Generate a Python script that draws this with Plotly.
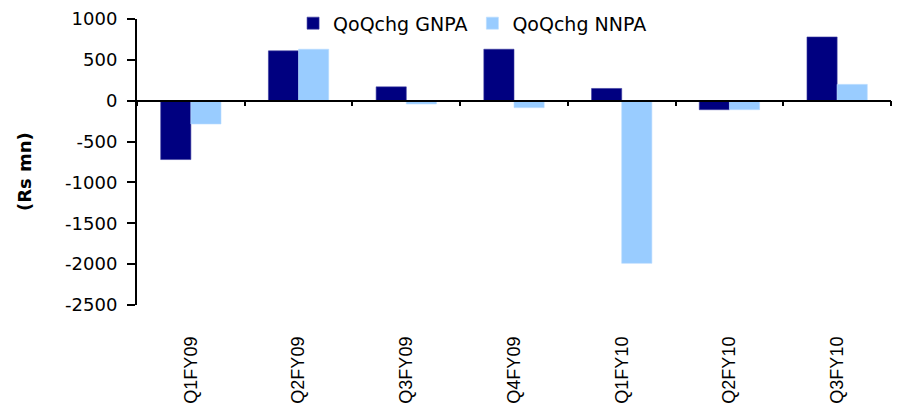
import plotly.graph_objects as go

quarters = ["Q1FY09", "Q2FY09", "Q3FY09", "Q4FY09", "Q1FY10", "Q2FY10", "Q3FY10"]
gnpa_chg = [-720, 610, 170, 630, 150, -110, 780]
nnpa_chg = [-285, 630, -40, -85, -1990, -110, 200]

y_ticks = [-2500, -2000, -1500, -1000, -500, 0, 500, 1000]
y_tick_text = ["-2500", "-2000", "-1500", "-1000", "-500", "0", "500", "1000"]

y_min, y_max = -2500, 1000
font_family = "DejaVu Sans"

fig = go.Figure()
fig.add_trace(go.Bar(
    x=quarters, y=gnpa_chg, name="QoQchg GNPA",
    marker=dict(color="#000080", line=dict(color="#3a3aa0", width=0.6)),
))
fig.add_trace(go.Bar(
    x=quarters, y=nnpa_chg, name="QoQchg NNPA",
    marker=dict(color="#99CCFF", line=dict(color="#b8dcff", width=0.6)),
))

# zero-line axis carrying the category boundary ticks
zero_pos = (0 - y_min) / (y_max - y_min)

fig.update_layout(
    width=906, height=406,
    margin=dict(l=137, r=15, t=19, b=101, autoexpand=False),
    paper_bgcolor="white", plot_bgcolor="white",
    barmode="group", bargap=0.44, bargroupgap=0,
    font=dict(family=font_family, size=16, color="black"),
    showlegend=True,
    legend=dict(
        orientation="h", x=0.207, y=0.985, xanchor="left", yanchor="middle",
        font=dict(size=19), bgcolor="rgba(0,0,0,0)",
        itemwidth=30, tracegroupgap=0,
    ),
    xaxis=dict(
        type="category", showline=False, ticks="", showgrid=False,
        tickangle=-90, ticklabelstandoff=27, zeroline=False,
        tickfont=dict(size=18, family="Liberation Sans"),
        range=[-0.5, 6.5],
    ),
    xaxis2=dict(
        overlaying="x", anchor="free", position=zero_pos, side="bottom",
        range=[-0.5, 6.5], tickmode="linear", tick0=0.5, dtick=1,
        showticklabels=False, ticks="outside", ticklen=5, tickwidth=2,
        tickcolor="black", showline=True, linecolor="black", linewidth=1.5,
        showgrid=False, zeroline=False,
    ),
    yaxis=dict(
        range=[y_min, y_max], tickmode="array", tickvals=y_ticks, ticktext=y_tick_text,
        showline=True, linecolor="black", linewidth=2,
        ticks="outside", ticklen=8, tickwidth=2, tickcolor="black",
        ticklabelstandoff=6,
        showgrid=False, zeroline=False,
        tickfont=dict(size=18),
    ),
    annotations=[dict(
        text="<b>(Rs mn)</b>", textangle=-90, showarrow=False,
        xref="paper", yref="paper", x=-0.15, y=0.468,
        xanchor="center", yanchor="middle", font=dict(size=18),
    )],
)

# anchor trace so the overlay axis is rendered
fig.add_trace(go.Scatter(x=[0], y=[0], xaxis="x2", mode="markers",
                         marker=dict(opacity=0), showlegend=False, hoverinfo="skip"))

fig.write_html("out.html")
